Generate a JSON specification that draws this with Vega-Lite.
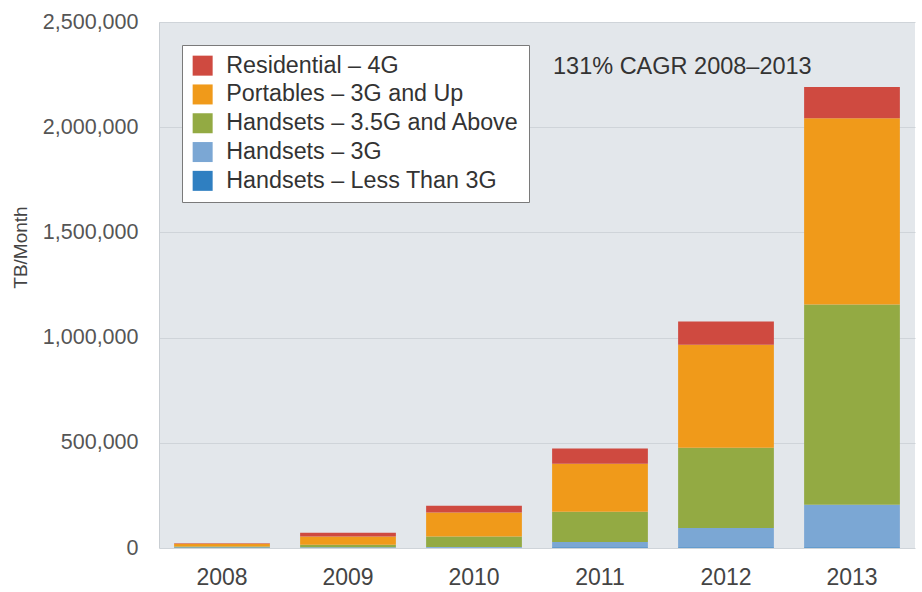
{
  "$schema": "https://vega.github.io/schema/vega-lite/v6.json",
  "width": 756,
  "height": 526,
  "autosize": {"type": "none"},
  "padding": {"left": 159, "top": 22, "right": 7, "bottom": 44},
  "background": "#ffffff",
  "config": {
    "font": "Liberation Sans",
    "view": {"fill": "#e3e7eb", "stroke": null}
  },
  "layer": [
    {
      "data": {
        "values": [
          {"year": "2008", "series": "Handsets – Less Than 3G", "traffic": 2000},
          {"year": "2008", "series": "Handsets – 3G", "traffic": 2000},
          {"year": "2008", "series": "Handsets – 3.5G and Above", "traffic": 3000},
          {"year": "2008", "series": "Portables – 3G and Up", "traffic": 13000},
          {"year": "2008", "series": "Residential – 4G", "traffic": 2000},
          {"year": "2009", "series": "Handsets – Less Than 3G", "traffic": 1000},
          {"year": "2009", "series": "Handsets – 3G", "traffic": 2000},
          {"year": "2009", "series": "Handsets – 3.5G and Above", "traffic": 12000},
          {"year": "2009", "series": "Portables – 3G and Up", "traffic": 40000},
          {"year": "2009", "series": "Residential – 4G", "traffic": 18000},
          {"year": "2010", "series": "Handsets – Less Than 3G", "traffic": 1000},
          {"year": "2010", "series": "Handsets – 3G", "traffic": 4000},
          {"year": "2010", "series": "Handsets – 3.5G and Above", "traffic": 50000},
          {"year": "2010", "series": "Portables – 3G and Up", "traffic": 114000},
          {"year": "2010", "series": "Residential – 4G", "traffic": 32000},
          {"year": "2011", "series": "Handsets – Less Than 3G", "traffic": 4000},
          {"year": "2011", "series": "Handsets – 3G", "traffic": 25000},
          {"year": "2011", "series": "Handsets – 3.5G and Above", "traffic": 143000},
          {"year": "2011", "series": "Portables – 3G and Up", "traffic": 229000},
          {"year": "2011", "series": "Residential – 4G", "traffic": 72000},
          {"year": "2012", "series": "Handsets – Less Than 3G", "traffic": 4000},
          {"year": "2012", "series": "Handsets – 3G", "traffic": 91000},
          {"year": "2012", "series": "Handsets – 3.5G and Above", "traffic": 381000},
          {"year": "2012", "series": "Portables – 3G and Up", "traffic": 490000},
          {"year": "2012", "series": "Residential – 4G", "traffic": 110000},
          {"year": "2013", "series": "Handsets – Less Than 3G", "traffic": 4000},
          {"year": "2013", "series": "Handsets – 3G", "traffic": 201000},
          {"year": "2013", "series": "Handsets – 3.5G and Above", "traffic": 952000},
          {"year": "2013", "series": "Portables – 3G and Up", "traffic": 886000},
          {"year": "2013", "series": "Residential – 4G", "traffic": 148000}
        ]
      },
      "transform": [
        {"calculate": "indexof(['Handsets – Less Than 3G', 'Handsets – 3G', 'Handsets – 3.5G and Above', 'Portables – 3G and Up', 'Residential – 4G'], datum.series)", "as": "stackOrder"}
      ],
      "mark": {"type": "bar"},
      "encoding": {
        "x": {
          "field": "year",
          "type": "ordinal",
          "scale": {"paddingInner": 0.24, "paddingOuter": 0.12},
          "axis": {
            "title": null,
            "labelAngle": 0,
            "ticks": false,
            "domain": false,
            "labelFontSize": 23,
            "labelColor": "#444444",
            "labelPadding": 18
          }
        },
        "y": {
          "field": "traffic",
          "type": "quantitative",
          "stack": "zero",
          "scale": {"domain": [0, 2500000], "nice": false},
          "axis": {
            "title": "TB/Month",
            "titleFontSize": 19,
            "titleFontWeight": "normal",
            "titleColor": "#444444",
            "titleAngle": 270,
            "titleBaseline": "middle",
            "titleAlign": "center",
            "titleX": -139,
            "titleY": 225,
            "values": [0, 500000, 1000000, 1500000, 2000000, 2500000],
            "format": ",d",
            "labelFontSize": 21.5,
            "labelColor": "#555555",
            "labelPadding": 21,
            "ticks": false,
            "domain": true,
            "domainColor": "#c9ced3",
            "grid": true,
            "gridColor": "#cfd4d9",
            "gridWidth": 1
          }
        },
        "color": {
          "field": "series",
          "type": "nominal",
          "sort": ["Handsets – Less Than 3G", "Handsets – 3G", "Handsets – 3.5G and Above", "Portables – 3G and Up", "Residential – 4G"],
          "scale": {
            "range": ["#2f7fc1", "#7ba7d4", "#93aa43", "#f09a1a", "#cf4a40"]
          },
          "legend": {
            "title": null,
            "orient": "none",
            "legendX": 23,
            "legendY": 23,
            "values": ["Residential – 4G", "Portables – 3G and Up", "Handsets – 3.5G and Above", "Handsets – 3G", "Handsets – Less Than 3G"],
            "symbolType": "square",
            "symbolSize": 400,
            "symbolStrokeWidth": 0,
            "labelFontSize": 23.3,
            "labelColor": "#333333",
            "labelLimit": 400,
            "rowPadding": 4.8,
            "labelOffset": 12,
            "fillColor": "#ffffff",
            "strokeColor": "#7a7a7a",
            "padding": 9
          }
        },
        "order": {"field": "stackOrder", "type": "quantitative", "sort": "ascending"}
      }
    },
    {
      "data": {"values": [{"label": "131% CAGR 2008–2013", "year": "2011", "value": 2286000}]},
      "mark": {"type": "text", "align": "left", "baseline": "middle", "fontSize": 23.5, "color": "#333333", "dx": -47},
      "encoding": {
        "x": {"field": "year", "type": "ordinal"},
        "y": {"field": "value", "type": "quantitative"},
        "text": {"field": "label"}
      }
    }
  ]
}
